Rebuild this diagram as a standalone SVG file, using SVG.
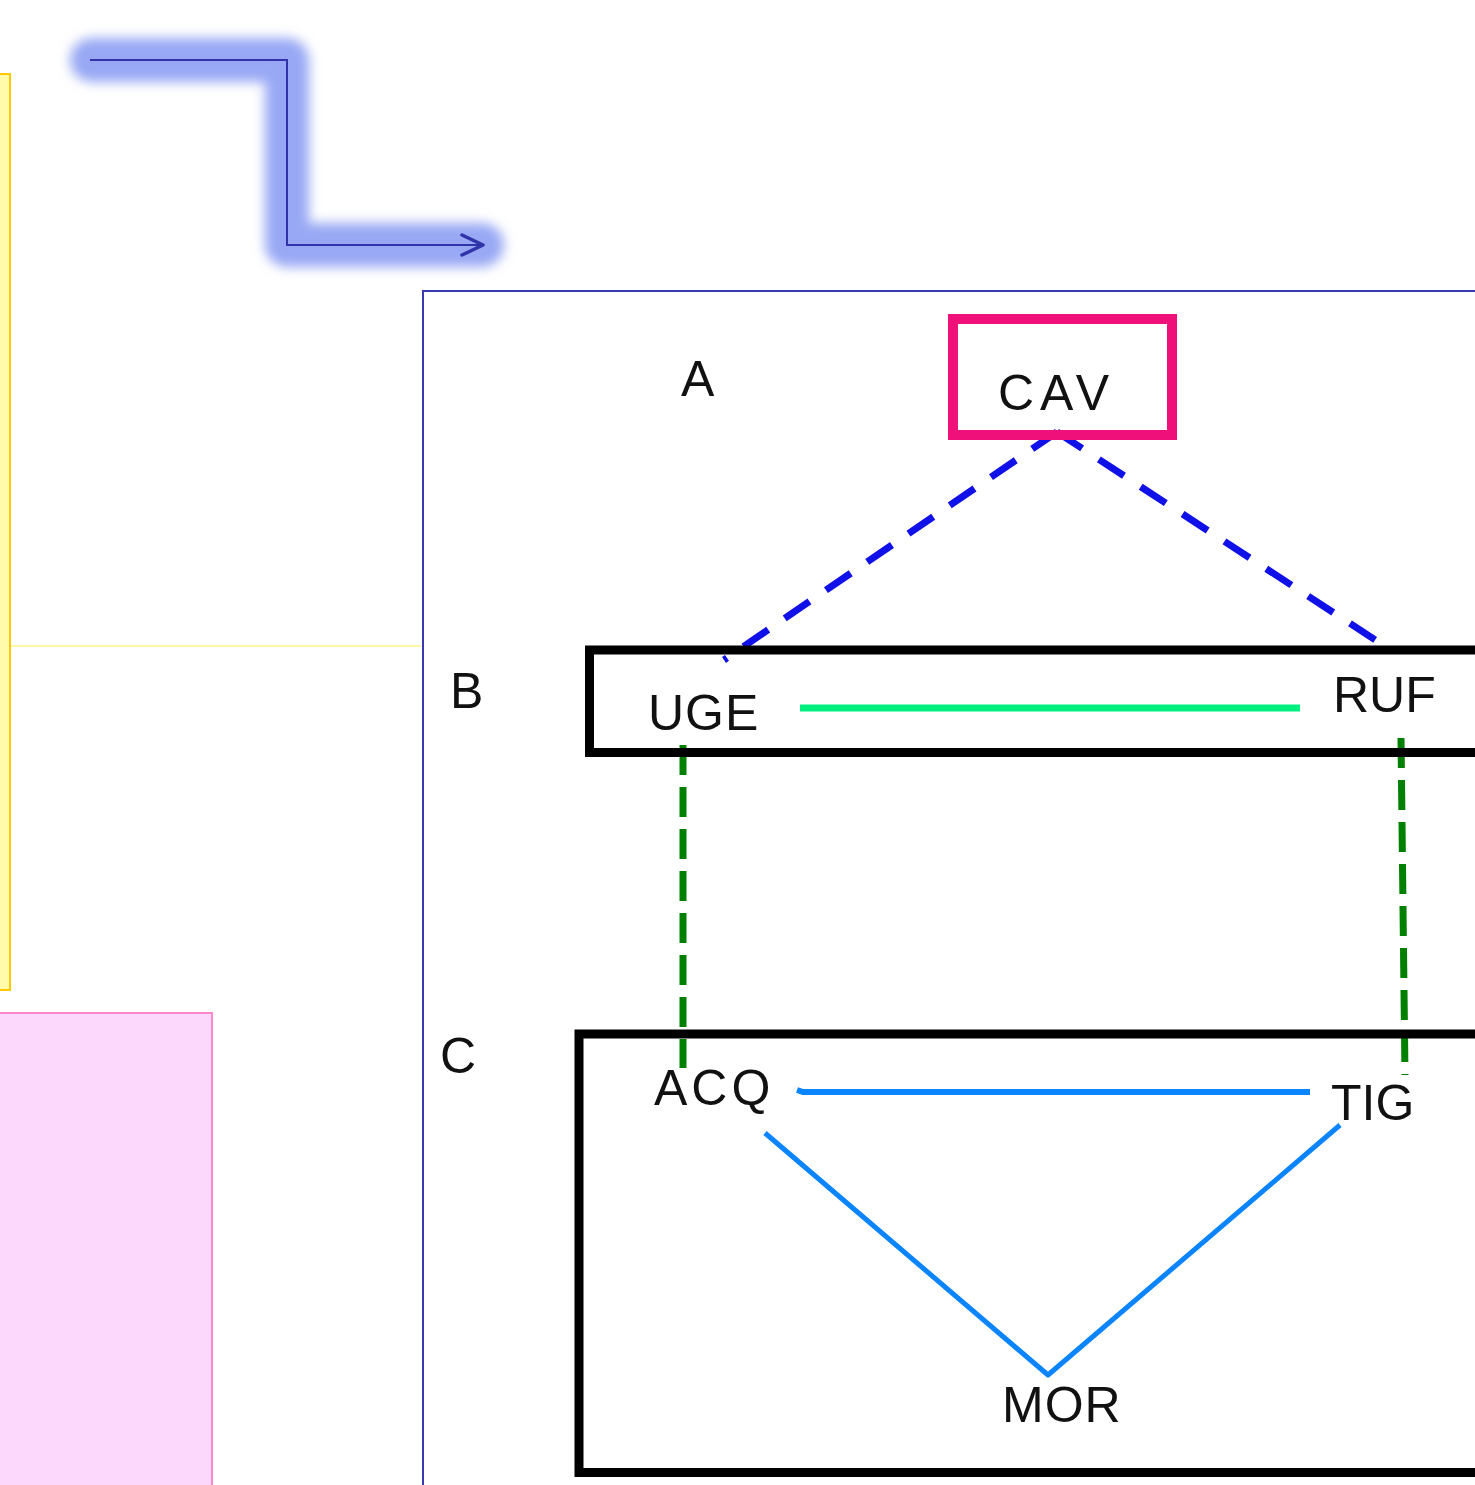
<svg xmlns="http://www.w3.org/2000/svg" width="1475" height="1485" viewBox="0 0 1475 1485">
<defs>
<filter id="glow" x="-20%" y="-20%" width="140%" height="140%"><feGaussianBlur stdDeviation="6"/></filter>
<style>
.lbl{font-family:"Liberation Sans",Arial,sans-serif;font-size:50px;fill:#111}
.box{fill:none;stroke:#000;stroke-width:9}
</style>
</defs>
<rect width="1475" height="1485" fill="#fff"/>
<g id="yellow-panel">
<rect x="-10" y="74" width="20" height="916" fill="#FFFBAA" stroke="#FFC800" stroke-width="2"/>
<line x1="11" y1="646" x2="421" y2="646" stroke="#FFF7A0" stroke-width="2"/>
</g>
<g id="pink-panel">
<rect x="-10" y="1013" width="222" height="490" fill="#FCD8FC" stroke="#FF88CC" stroke-width="2"/>
</g>
<g id="flow-arrow">
<path d="M92 60 H287 V245 H482" fill="none" stroke="#98A8F4" stroke-width="44" stroke-linecap="round" stroke-linejoin="round" filter="url(#glow)"/>
<path d="M90 60 H287 V245 H482" fill="none" stroke="#3034A8" stroke-width="2"/>
<path d="M462 235 L483 245 L462 255" fill="none" stroke="#3034A8" stroke-width="3.5" stroke-linecap="round" stroke-linejoin="round"/>
</g>
<g id="frame">
<rect x="423" y="291" width="1070" height="1210" fill="#fff" stroke="#3A3AB0" stroke-width="2"/>
</g>
<g id="connectors">
<line x1="1057" y1="432" x2="724" y2="660" stroke="#1010E8" stroke-width="7" stroke-dasharray="30 20"/>
<line x1="1057" y1="432" x2="1383" y2="645" stroke="#1010E8" stroke-width="7" stroke-dasharray="30 20"/>
<line x1="800" y1="708" x2="1300" y2="708" stroke="#00F080" stroke-width="7"/>
<line x1="683" y1="745" x2="683" y2="1068" stroke="#008000" stroke-width="7" stroke-dasharray="30 12"/>
<line x1="1401" y1="738" x2="1405" y2="1075" stroke="#008000" stroke-width="7" stroke-dasharray="30 12"/>
<path d="M797 1090 L803 1092 H1310" fill="none" stroke="#0A84FF" stroke-width="6"/>
<path d="M765 1133 L1048 1375 L1340 1125" fill="none" stroke="#0A84FF" stroke-width="5" stroke-linejoin="round"/>
</g>
<g id="level-A"><text class="lbl" x="681" y="396" letter-spacing="2">A</text></g>
<g id="level-B"><text class="lbl" x="450" y="708">B</text></g>
<g id="level-C"><text class="lbl" x="440" y="1073">C</text></g>
<g id="node-CAV">
<rect x="953" y="319" width="219" height="116" fill="none" stroke="#F0107A" stroke-width="10"/>
<text class="lbl" x="998" y="410" letter-spacing="6">CAV</text>
</g>
<g id="box-B"><rect class="box" x="589.5" y="650" width="1000" height="102.5"/></g>
<g id="box-C"><rect class="box" x="579" y="1034" width="1000" height="438.5"/></g>
<g id="node-UGE"><text class="lbl" x="648" y="730" letter-spacing="1">UGE</text></g>
<g id="node-RUF"><text class="lbl" x="1333" y="712">RUF</text></g>
<g id="node-ACQ"><text class="lbl" x="654" y="1105" letter-spacing="4">ACQ</text></g>
<g id="node-TIG"><text class="lbl" x="1331" y="1120">TIG</text></g>
<g id="node-MOR"><text class="lbl" x="1002" y="1422" letter-spacing="1">MOR</text></g>
</svg>
